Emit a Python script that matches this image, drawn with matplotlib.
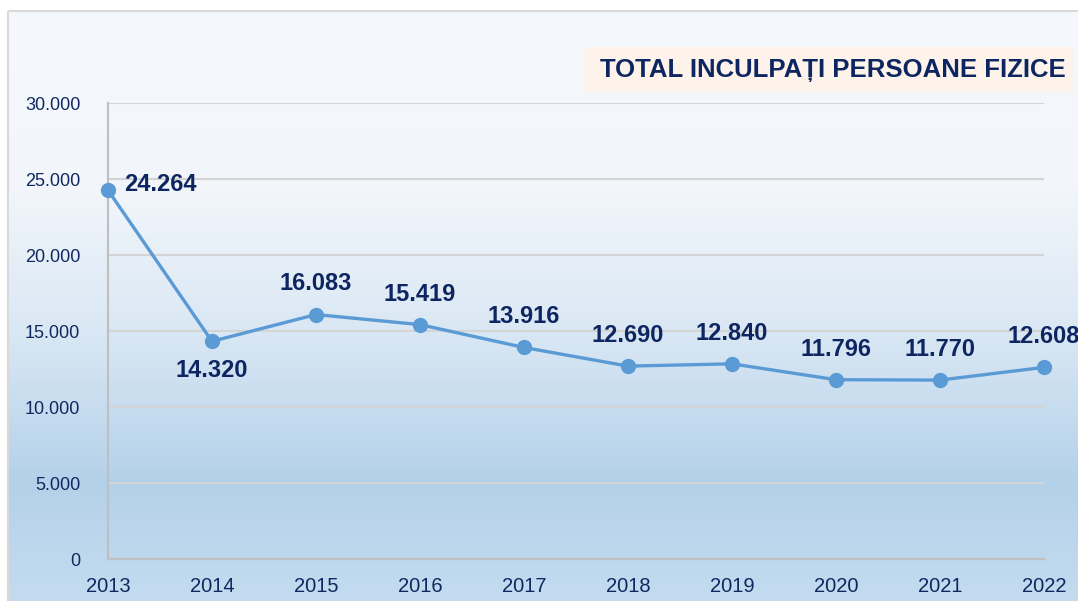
import numpy as np
import matplotlib
matplotlib.use("Agg")
import matplotlib.pyplot as plt
from matplotlib.colors import LinearSegmentedColormap
from matplotlib.patches import Rectangle
from matplotlib.ticker import FuncFormatter

years = ["2013", "2014", "2015", "2016", "2017", "2018", "2019", "2020", "2021", "2022"]
values = [24264, 14320, 16083, 15419, 13916, 12690, 12840, 11796, 11770, 12608]
title = "TOTAL INCULPAȚI PERSOANE FIZICE"

W, H = 1078, 601
fig = plt.figure(figsize=(W / 100, H / 100), dpi=100)
fig.patch.set_facecolor("white")

# background gradient panel
bg = fig.add_axes([0, 0, 1, 1], zorder=0)
bg.set_xlim(0, W)
bg.set_ylim(H, 0)
bg.axis("off")
cmap = LinearSegmentedColormap.from_list(
    "g", [(0.0, "#f5f8fc"), (0.3, "#f2f6fb"), (0.55, "#d9e7f4"),
          (0.8, "#b4d1ea"), (1.0, "#c4dbef")])
grad = np.linspace(0, 1, 256).reshape(-1, 1)
bg.imshow(grad, cmap=cmap, extent=[8, W + 5, H, 11], aspect="auto", zorder=0)
bg.add_patch(Rectangle((8, 11), W, H, fill=False, edgecolor="#d9d9d9", lw=1.5, zorder=1))
# title box
bg.add_patch(Rectangle((583, 47), 491, 45, facecolor="#fdf3ea", edgecolor="none", zorder=2))
bg.text(1066, 70, title, ha="right", va="center", fontsize=18.5, fontweight="bold",
        color="#0d2561", family=["Liberation Sans", "DejaVu Sans"], zorder=3)

ax = fig.add_axes([108 / W, 1 - 559 / H, (1044 - 108) / W, (559 - 103) / H], zorder=1)
ax.patch.set_alpha(0)
x = np.arange(len(years))
ax.plot(x, values, color="#5b9bd5", lw=2.4, marker="o", ms=10,
        markerfacecolor="#5b9bd5", markeredgecolor="#5b9bd5", clip_on=False, zorder=3)
ax.set_xlim(0, len(years) - 1)
ax.set_ylim(0, 30000)
ax.set_yticks(range(0, 30001, 5000))
ax.yaxis.set_major_formatter(FuncFormatter(lambda v, p: f"{int(v):,}".replace(",", ".")))
ax.set_xticks(x)
ax.set_xticklabels(years)
ax.grid(axis="y", color="#d4d4d4", lw=1.5)
ax.set_axisbelow(True)
for s in ["top", "right"]:
    ax.spines[s].set_visible(False)
for s in ["left", "bottom"]:
    ax.spines[s].set_color("#bfbfbf")
    ax.spines[s].set_linewidth(1.5)
ax.tick_params(length=0, colors="#10285f")
ax.tick_params(axis="y", pad=20, labelsize=13)
ax.tick_params(axis="x", pad=13, labelsize=14.5)
for lab in ax.get_xticklabels() + ax.get_yticklabels():
    lab.set_family(["Liberation Sans", "DejaVu Sans"])

lab_font = dict(fontsize=17, fontweight="bold", color="#0d2561",
                family=["Liberation Sans", "DejaVu Sans"])
for i, v in enumerate(values):
    s = f"{v:,}".replace(",", ".")
    if i == 0:
        ax.annotate(s, (i, v), xytext=(11.5, 4.3), textcoords="offset points",
                    ha="left", va="center", **lab_font)
    elif i == 1:
        ax.annotate(s, (i, v), xytext=(0, -21), textcoords="offset points",
                    ha="center", va="center", **lab_font)
    else:
        ax.annotate(s, (i, v), xytext=(0, 22), textcoords="offset points",
                    ha="center", va="center", annotation_clip=False, **lab_font)

fig.savefig("out.png", dpi=100)
